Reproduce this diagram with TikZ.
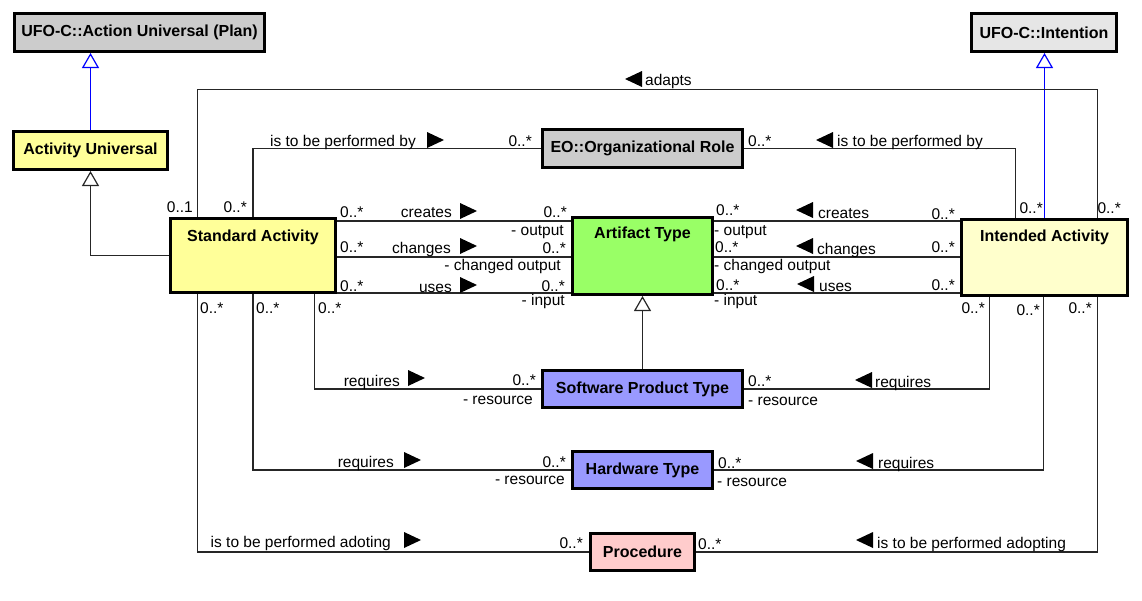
\documentclass[tikz,border=0pt]{standalone}
\usepackage{fontspec}
\setmainfont{Liberation Sans}
\usetikzlibrary{arrows.meta}
\usetikzlibrary{calc}

\definecolor{clsgray}{HTML}{CCCCCC}
\definecolor{clslight}{HTML}{E6E6E6}
\definecolor{clsyellow}{HTML}{FFFF99}
\definecolor{clscream}{HTML}{FFFFCC}
\definecolor{clsgreen}{HTML}{99FF66}
\definecolor{clsblue}{HTML}{9999FF}
\definecolor{clspink}{HTML}{FFCCCC}

\tikzset{
 cls/.style={draw=black, line width=3pt, inner sep=0pt, font=\fontsize{16}{19}\selectfont\bfseries},
 assoc/.style={draw=black!85, line width=1.2pt},
 gen/.style={assoc, -{Triangle[open, width=17pt, length=15pt]}},
 lbl/.style={inner sep=0pt, font=\fontsize{15.5}{18}\selectfont},
}

\begin{document}
\begin{tikzpicture}[x=1pt, y=-1pt]
\useasboundingbox (0,0) rectangle (1142,600);
% classes
\node[cls, fill=clsgray, minimum width=250, minimum height=38] (AUP) at (139.5,32.5) {UFO-C::Action Universal (Plan)};
\node[cls, fill=clslight, minimum width=145, minimum height=38] (Int) at (1044,32.5) {UFO-C::Intention};
\node[cls, fill=clsyellow, minimum width=154, minimum height=38] (AU) at (90.5,150.5) {Activity Universal};
\node[cls, fill=clsyellow, minimum width=165, text height=22.5pt, text depth=51.5pt] (SA) at (253,255.5) {Standard Activity};
\node[cls, fill=clsgray, minimum width=200, minimum height=38] (Org) at (642.5,148.5) {EO::Organizational Role};
\node[cls, fill=clsgreen, minimum width=140, text height=20.5pt, text depth=56.5pt] (AT) at (642.5,256) {Artifact Type};
\node[cls, fill=clscream, minimum width=166, text height=21.5pt, text depth=54.5pt] (IA) at (1044.5,257.5) {Intended Activity};
\node[cls, fill=clsblue, minimum width=200, minimum height=37] (SPT) at (642.5,389) {Software Product Type};
\node[cls, fill=clsblue, minimum width=140, minimum height=37] (HT) at (642.5,470) {Hardware Type};
\node[cls, fill=clspink, minimum width=104, minimum height=37] (Proc) at (642.5,552) {Procedure};

% lanes
\coordinate (xAd) at (197.5,0);
\coordinate (xSw) at (314.5,0);
\coordinate (xAdR) at (1097.5,0);
\coordinate (xRoleR) at (1015.5,0);
\coordinate (xSwR) at (989.5,0);
\coordinate (xHwR) at (1043.5,0);
\coordinate (yAd) at (0,89.5);
\coordinate (yCre) at (0,221);
\coordinate (yChg) at (0,257);
\coordinate (yUse) at (0,293);

% generalizations
\draw[gen, draw=blue] (AU.north) -- (AU.north |- AUP.south);
\draw[gen] (SA.west) -| (AU.south);
\draw[gen, draw=blue] (IA.north) -- (IA.north |- Int.south);
\draw[gen] (SPT.north) -- (AT.south);

% associations
\draw[assoc] (SA.north -| xAd) -- (xAd |- yAd) -| (IA.north -| xAdR);
\draw[assoc] (SA.north) |- (Org.west);
\draw[assoc] (Org.east) -| (IA.north -| xRoleR);
\foreach \ly in {yCre, yChg, yUse} {
 \draw[assoc] (SA.east |- \ly) -- (AT.west |- \ly);
 \draw[assoc] (AT.east |- \ly) -- (IA.west |- \ly);
}
\draw[assoc] (SA.south -| xSw) |- (SPT.west);
\draw[assoc] (SPT.east) -| (IA.south -| xSwR);
\draw[assoc] (SA.south) |- (HT.west);
\draw[assoc] (HT.east) -| (IA.south -| xHwR);
\draw[assoc] (SA.south -| xAd) |- (Proc.west);
\draw[assoc] (Proc.east) -| (IA.south -| xAdR);

% reading directions
\foreach \x/\y in {427/132, 460/203, 460/238, 460/277, 408/370, 404/452, 404/532}
 \fill (\x,\y) -- ++(17,8) -- ++(-17,8) -- cycle;
\foreach \x/\y in {625/71, 816/132, 796/202, 796/238, 797/276, 855/372, 856/453, 856/532}
 \fill (\x,\y+8) -- ++(17,-8) -- ++(0,16) -- cycle;

% labels
\foreach \x/\y/\t [count=\i] in {532/146/0..*, 193/212/0..1, 247/212/0..*, 1043/213/0..*, 1121/213/0..*,
 416/146/is to be performed by, 567/217/0..*, 564/235/- output, 452/217/creates, 566/253/0..*,
 561/270/- changed output, 451/253/changes, 565/291/0..*, 565/305/- input, 452/292/uses,
 955/219/0..*, 955/252/0..*, 955/290/0..*, 985/313/0..*, 1040/315/0..*, 1092/313/0..*,
 400/386/requires, 536/385/0..*, 533/404/- resource, 394/467/requires, 566/467/0..*,
 565/484/- resource, 391/547/is to be performed adoting, 583/548/0..*}
 \node[lbl, anchor=base east] (e\i) at (\x,\y) {\t};
\foreach \x/\y/\t [count=\i] in {645/85/adapts, 748/146/0..*, 837/146/is to be performed by,
 340/217/0..*, 340/252/0..*, 340/291/0..*, 200/313/0..*, 256/313/0..*, 318/313/0..*,
 716/215/0..*, 714/235/- output, 715/252/0..*, 714/270/- changed output, 716/290/0..*, 714/305/- input,
 818/218/creates, 817/254/changes, 819/291/uses, 748/386/0..*, 748/405/- resource, 875/387/requires,
 718/468/0..*, 717/486/- resource, 878/468/requires, 698/549/0..*, 877/548/is to be performed adopting}
 \node[lbl, anchor=base west] (w\i) at (\x,\y) {\t};
\end{tikzpicture}
\end{document}
